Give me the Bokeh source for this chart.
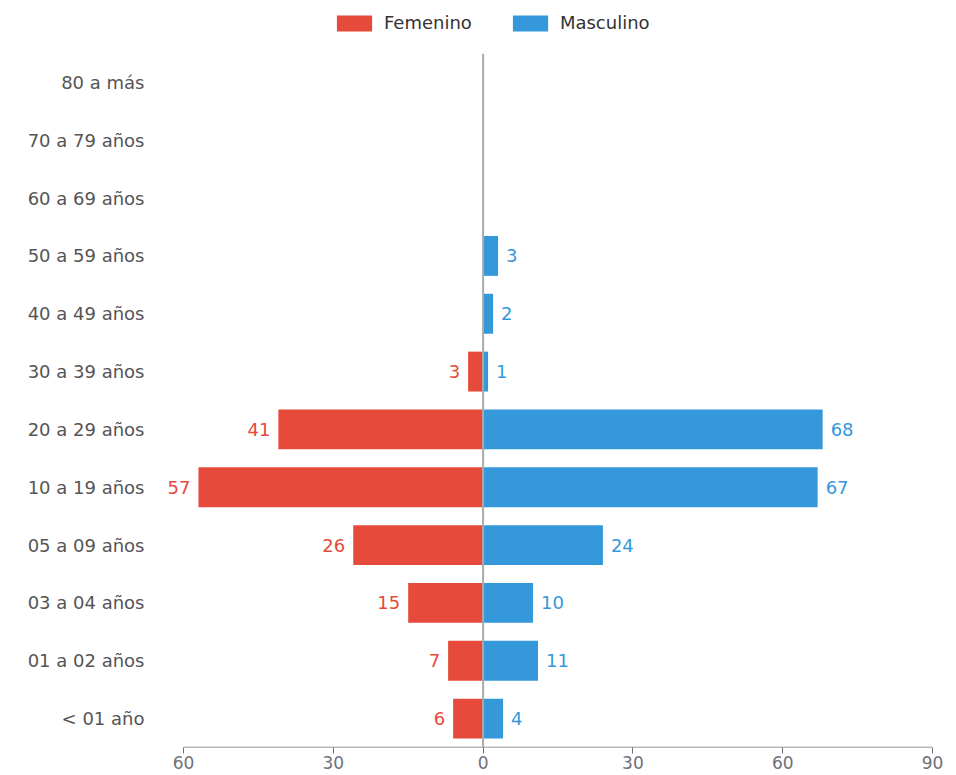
from bokeh.plotting import figure
from bokeh.layouts import column
from bokeh.models import (ColumnDataSource, Span, Legend, LegendItem, FixedTicker, LabelSet,
                          FactorRange, Range1d)
from bokeh.transform import dodge
from bokeh.core.properties import value
from bokeh.embed import file_html
from bokeh.resources import INLINE

categories = ["< 01 año", "01 a 02 años", "03 a 04 años", "05 a 09 años", "10 a 19 años",
              "20 a 29 años", "30 a 39 años", "40 a 49 años", "50 a 59 años",
              "60 a 69 años", "70 a 79 años", "80 a más"]
femenino = [6, 7, 15, 26, 57, 41, 3, 0, 0, 0, 0, 0]
masculino = [4, 11, 10, 24, 67, 68, 1, 2, 3, 0, 0, 0]
x_ticks = [-60, -30, 0, 30, 60, 90]
x_tick_labels = ["60", "30", "0", "30", "60", "90"]
series_names = ["Femenino", "Masculino"]

RED = "#e64a3b"
BLUE = "#3498db"
FONT = "DejaVu Sans"
AXIS = "#6e7079"

# ---- legend strip (separate small figure above the chart) ----
lg = figure(width=944, height=45, x_range=Range1d(0, 1), y_range=Range1d(0, 1),
            output_backend="svg", toolbar_location=None,
            x_axis_location=None, y_axis_location=None,
            min_border_left=0, min_border_right=0, min_border_top=0, min_border_bottom=0)
lg.outline_line_color = None
lg.grid.grid_line_color = None
# placeholder renderers lying outside the visible range: only their legend swatches show
lr_f = lg.hbar(y=[5], left=[5], right=[6], height=1, color=RED, line_color=None)
lr_m = lg.hbar(y=[5], left=[5], right=[6], height=1, color=BLUE, line_color=None)
legend = Legend(items=[LegendItem(label=series_names[0], renderers=[lr_f]),
                       LegendItem(label=series_names[1], renderers=[lr_m])],
                orientation="horizontal", location=(169, 12), padding=0, margin=0,
                glyph_width=44, glyph_height=20, label_standoff=8, spacing=36,
                label_text_font=FONT, label_text_font_size="18px", label_text_color="#333333",
                border_line_color=None, background_fill_alpha=0)
lg.add_layout(legend, "center")

# ---- main chart ----
yr = FactorRange(*categories)
p = figure(width=944, height=729, y_range=yr, x_range=Range1d(-64, 90),
           output_backend="svg", toolbar_location=None,
           min_border_left=163, min_border_right=12, min_border_top=8, min_border_bottom=27)
p.outline_line_color = None
p.grid.grid_line_color = None

f_src = ColumnDataSource(dict(y=categories, right=[-v for v in femenino]))
m_src = ColumnDataSource(dict(y=categories, right=masculino))
p.hbar(y="y", left=0, right="right", height=0.69, source=f_src, color=RED, line_color=None)
p.hbar(y="y", left=0, right="right", height=0.69, source=m_src, color=BLUE, line_color=None)

# axis baseline spanning only the tick extent
base = ColumnDataSource(dict(x0=[x_ticks[0]], x1=[x_ticks[-1]], y=[categories[0]]))
p.segment(x0="x0", x1="x1", y0=dodge("y", -0.498, range=yr), y1=dodge("y", -0.498, range=yr),
          source=base, line_color=AXIS, line_width=1.2)

fl = ColumnDataSource(dict(y=[c for c, v in zip(categories, femenino) if v > 0],
                           x=[-v for v in femenino if v > 0],
                           t=[str(v) for v in femenino if v > 0]))
ml = ColumnDataSource(dict(y=[c for c, v in zip(categories, masculino) if v > 0],
                           x=[v for v in masculino if v > 0],
                           t=[str(v) for v in masculino if v > 0]))
p.add_layout(LabelSet(x="x", y="y", text="t", source=fl, x_offset=-8, text_align="right",
                      text_baseline="middle", text_color=RED, text_font_size="18px",
                      text_font=value(FONT)))
p.add_layout(LabelSet(x="x", y="y", text="t", source=ml, x_offset=8, text_align="left",
                      text_baseline="middle", text_color=BLUE, text_font_size="18px",
                      text_font=value(FONT)))

p.add_layout(Span(location=0, dimension="height", line_color="#aaaaaa", line_width=2))

p.xaxis.ticker = FixedTicker(ticks=x_ticks)
p.xaxis.major_label_overrides = {t: l for t, l in zip(x_ticks, x_tick_labels)}
p.xaxis.axis_line_color = None
p.xaxis.major_tick_line_color = AXIS
p.xaxis.major_tick_in = 0
p.xaxis.major_tick_out = 6
p.xaxis.minor_tick_line_color = None
p.xaxis.major_label_standoff = 2
p.xaxis.major_label_text_font = FONT
p.xaxis.major_label_text_font_size = "17px"
p.xaxis.major_label_text_color = AXIS

p.yaxis.axis_line_color = None
p.yaxis.major_tick_line_color = None
p.yaxis.minor_tick_line_color = None
p.yaxis.major_label_standoff = 13
p.yaxis.major_label_text_font = FONT
p.yaxis.major_label_text_font_size = "18px"
p.yaxis.major_label_text_color = "#555555"

layout = column(lg, p, spacing=0)
open("out.html", "w").write(file_html(layout, INLINE))
